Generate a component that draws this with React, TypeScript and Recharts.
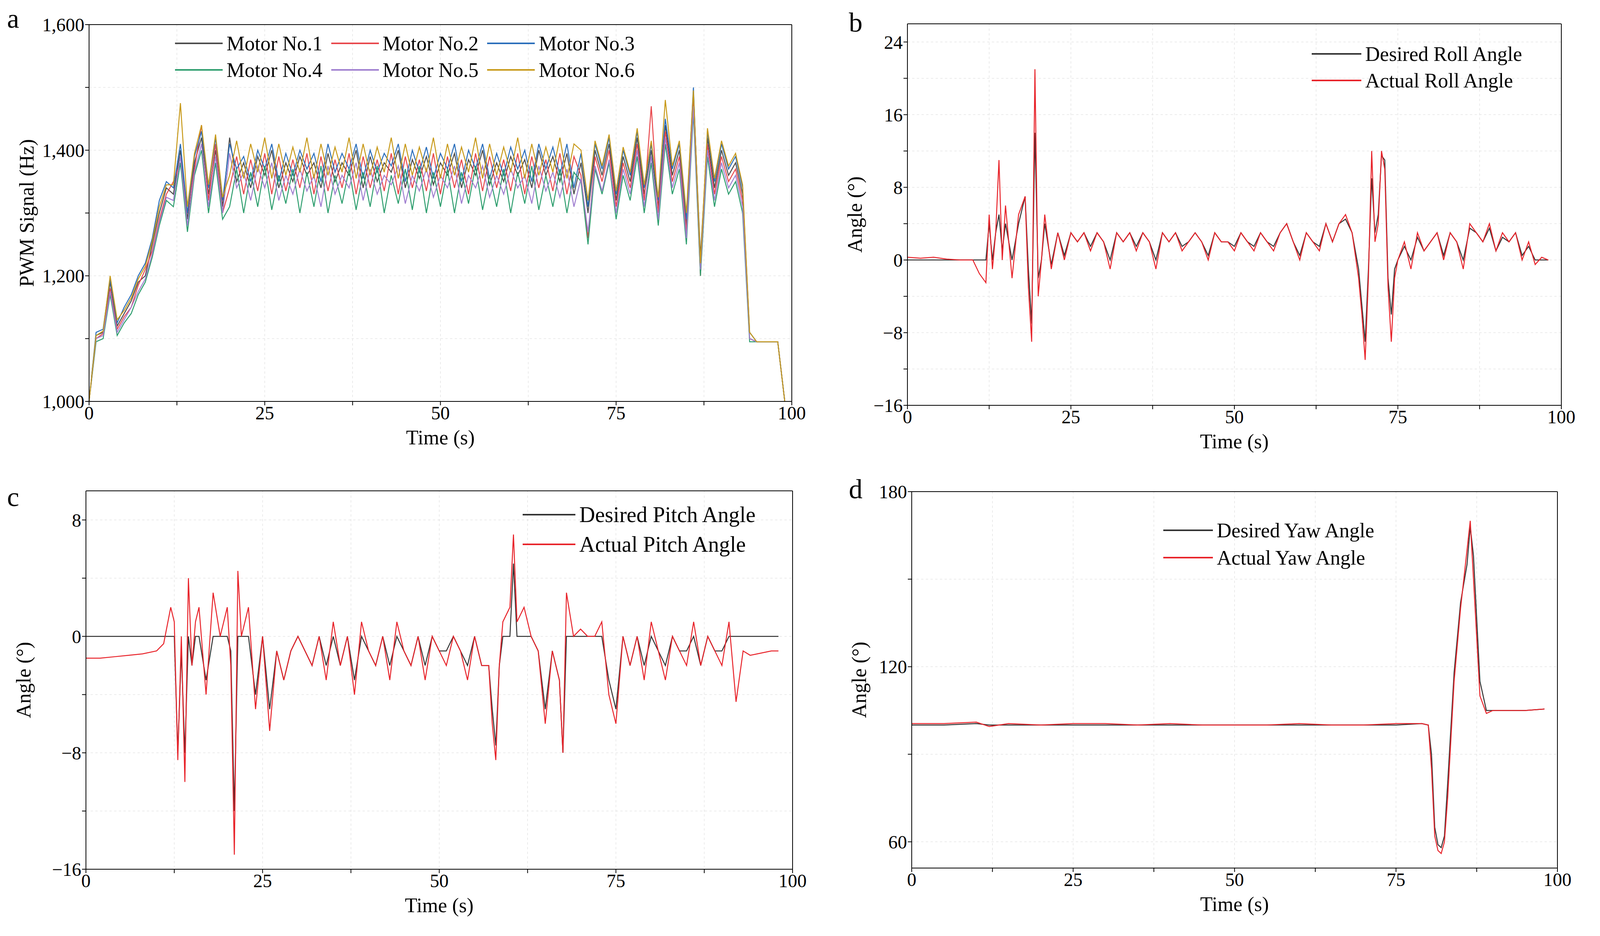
import React from 'react';
import { LineChart, Line, XAxis, YAxis, CartesianGrid } from 'recharts';

const FONT = '"Liberation Serif", "Times New Roman", serif';

// ---- panel a: motor PWM (one sample per second) ----
const MOTOR_T = Array.from({ length: 100 }, (_, i) => i);
const M1 = [
  1000,1105,1110,1190,1120,1140,1160,1190,1200,1250,
  1300,1340,1330,1400,1290,1380,1420,1330,1400,1310,
  1420,1350,1380,1340,1390,1360,1400,1340,1380,1350,
  1390,1360,1380,1340,1395,1350,1380,1360,1400,1340,
  1390,1350,1380,1365,1400,1340,1385,1355,1390,1345,
  1380,1360,1395,1340,1385,1360,1400,1345,1380,1350,
  1390,1360,1385,1340,1400,1360,1390,1350,1395,1330,
  1380,1300,1400,1360,1410,1320,1390,1350,1420,1330,
  1400,1310,1440,1360,1400,1280,1490,1230,1420,1340,
  1400,1360,1380,1330,1100,1095,1095,1095,1095,1000,
];
const M2 = [
  1000,1100,1108,1180,1115,1135,1150,1185,1210,1240,
  1290,1330,1350,1380,1300,1370,1440,1320,1410,1300,
  1340,1390,1330,1385,1335,1395,1330,1390,1335,1385,
  1340,1395,1330,1390,1335,1385,1340,1395,1330,1390,
  1340,1385,1335,1395,1330,1390,1340,1385,1335,1395,
  1330,1390,1340,1385,1330,1395,1335,1390,1340,1385,
  1335,1395,1330,1390,1340,1385,1335,1395,1330,1390,
  1360,1260,1390,1350,1400,1310,1380,1340,1410,1320,
  1470,1300,1430,1350,1390,1270,1480,1200,1410,1330,
  1390,1350,1370,1320,1100,1095,1095,1095,1095,1000,
];
const M3 = [
  1000,1110,1115,1195,1125,1150,1170,1200,1220,1260,
  1320,1350,1340,1410,1300,1390,1430,1340,1420,1320,
  1410,1370,1390,1350,1400,1370,1410,1350,1395,1360,
  1400,1370,1395,1350,1410,1365,1395,1370,1410,1355,
  1400,1365,1395,1375,1410,1350,1400,1365,1405,1355,
  1395,1370,1410,1350,1400,1370,1410,1355,1395,1360,
  1405,1370,1400,1350,1410,1370,1405,1360,1410,1340,
  1395,1310,1410,1370,1420,1330,1400,1360,1430,1340,
  1410,1320,1450,1370,1410,1290,1500,1210,1430,1350,
  1410,1370,1390,1340,1110,1095,1095,1095,1095,1000,
];
const M4 = [
  1000,1095,1100,1170,1105,1125,1140,1170,1190,1230,
  1280,1320,1310,1380,1270,1360,1400,1300,1380,1290,
  1310,1370,1300,1365,1310,1375,1305,1360,1315,1370,
  1300,1365,1310,1375,1300,1360,1315,1370,1305,1365,
  1310,1375,1300,1360,1315,1370,1305,1375,1300,1365,
  1310,1370,1300,1365,1315,1375,1305,1360,1310,1370,
  1300,1365,1315,1375,1305,1360,1310,1370,1300,1365,
  1350,1250,1370,1330,1380,1290,1360,1320,1390,1300,
  1380,1280,1410,1330,1370,1250,1460,1200,1390,1310,
  1370,1330,1350,1300,1095,1095,1095,1095,1095,1000,
];
const M5 = [
  1000,1100,1105,1175,1110,1130,1150,1175,1195,1235,
  1285,1325,1320,1390,1280,1365,1410,1310,1390,1300,
  1395,1340,1365,1320,1375,1340,1380,1320,1360,1330,
  1370,1335,1360,1310,1375,1330,1360,1340,1380,1320,
  1370,1330,1360,1345,1375,1315,1360,1335,1370,1325,
  1360,1340,1375,1315,1360,1340,1375,1325,1360,1330,
  1370,1340,1360,1315,1375,1335,1365,1325,1370,1310,
  1355,1270,1375,1335,1385,1300,1370,1330,1400,1310,
  1390,1290,1420,1340,1380,1260,1470,1210,1400,1320,
  1380,1340,1360,1310,1100,1095,1095,1095,1095,1000,
];
const M6 = [
  1000,1105,1112,1200,1130,1145,1165,1195,1215,1255,
  1310,1345,1345,1475,1310,1395,1440,1345,1425,1325,
  1360,1415,1355,1410,1365,1420,1355,1410,1360,1405,
  1365,1420,1355,1410,1360,1405,1365,1420,1355,1410,
  1360,1405,1365,1420,1355,1410,1360,1405,1365,1420,
  1355,1410,1360,1405,1365,1420,1355,1410,1360,1405,
  1365,1420,1355,1410,1360,1405,1365,1420,1355,1410,
  1400,1320,1415,1375,1425,1335,1405,1365,1435,1345,
  1415,1325,1480,1375,1415,1300,1495,1220,1435,1355,
  1415,1375,1395,1345,1110,1095,1095,1095,1095,1000,
];
const MOTOR_NAMES = ['Motor No.1', 'Motor No.2', 'Motor No.3', 'Motor No.4', 'Motor No.5', 'Motor No.6'];
const MOTOR_COLORS = ['#4d4d4d', '#e8474c', '#2a6ebb', '#2e9e6e', '#a07fd0', '#c89a1a'];

// ---- panel b: roll ----
const ROLL_T = [
  0,2,4,6,8,10,
  11,12,12.5,13,13.5,14,14.5,15,
  16,17,18,18.5,19,19.5,20,20.5,21,
  22,23,24,25,26,27,28,29,30,31,32,33,34,35,36,37,38,39,40,41,42,43,44,45,
  46,47,48,49,50,51,52,53,54,55,56,57,58,59,60,61,62,63,64,65,66,67,68,69,
  69.5,70,70.5,71,71.5,72,72.5,73,73.5,74,74.5,75,
  76,77,78,79,80,81,82,83,84,85,86,87,88,89,90,91,92,93,94,95,96,97,98,
];
const ROLL_ACT = [
  0.3,0.2,0.3,0.1,0,0,
  -1.5,-2.5,5,-1,3,11,0,6,
  -2,5,7,-3,-9,21,-4,0,5,
  -1,3,0,3,2,3,1,3,
  2,-1,3,2,3,1,3,2,
  -1,3,2,3,1,2,3,2,
  0,3,2,2,1,3,2,1,
  3,2,1,3,4,2,0,3,
  2,1,4,2,4,5,3,-2,
  -6,-11,-2,12,2,4,12,10,-3,-9,-2,0,
  2,-1,3,1,2,3,0,3,2,-1,4,3,2,4,1,3,2,3,0,2,-0.5,0.3,0,
];
const ROLL_DES = [
  0,0,0,0,0,0,
  0,0,4,0,3,5,1,4,
  0,4,7,-1,-7,14,-2,0,4,
  -0.5,3,0.5,3,2,3,1.5,3,
  2,0,3,2,3,1.5,3,2,
  0,3,2,3,1.5,2,3,2,
  0.5,3,2,2,1.5,3,2,1.5,
  3,2,1.5,3,4,2,0.5,3,
  2,1.5,4,2,4,4.5,3,-1,
  -5,-9,-1,9,3,5,11.5,11,-2,-6,-1,0,
  1.5,0,2.5,1,2,3,0.5,3,2,0,3.5,3,2,3.5,1,2.5,2,3,0.5,1.5,0,0,0,
];

// ---- panel c: pitch ----
const PITCH_T = [
  0,2,4,6,8,10,11,
  12,12.5,13,13.5,14,14.5,15,15.5,16,17,18,19,20,20.5,21,21.5,
  22,23,24,25,26,27,28,29,30,31,32,33,34,35,36,37,38,39,40,41,42,43,44,45,46,47,48,49,50,51,52,53,54,55,56,57,
  57.5,58,58.5,59,60,60.5,61,62,63,64,65,66,67,67.5,
  68,69,70,71,72,73,74,75,76,77,78,79,80,81,82,83,84,85,86,87,88,89,90,91,92,93,94,95,96,97,98,
];
const PITCH_ACT = [
  -1.5,-1.5,-1.4,-1.3,-1.2,-1,-0.5,
  2,1,-8.5,0,-10,4,-2,1,2,-4,3,0,2,-2,-15,4.5,
  0,2,-5,0,-6.5,-1,-3,-1,0,
  -1,-2,0,-3,1,-2,0,-4,1,
  -1,-2,0,-3,1,-1,-2,0,-3,
  0,-1,-2,0,-1,-3,0,-2,-2,
  -6,-8.5,-2,1,2,7,1,2,0,-1,-6,-1,-3,-8,
  3,0,0.5,0,0,1,-4,-6,0,-2,0,-3,1,-1,-3,0,-1,-2,1,-2,0,-1,-2,1,-4.5,-1,-1.3,-1.2,-1.1,-1,-1,
];
const PITCH_DES = [
  0,0,0,0,0,0,0,
  0,0,-8,-1,-8,0,-2,0,0,-3,0,0,0,-1,-12,0,
  0,0,-4,0,-5,-1,-3,-1,0,
  -1,-2,0,-2,0,-2,0,-3,0,
  -1,-2,0,-2,0,-1,-2,0,-2,
  0,-1,-1,0,-1,-2,0,-2,-2,
  -5,-7.5,-2,0,0,5,0,0,0,-1,-5,-1,-3,-8,
  0,0,0,0,0,0,-3,-5,0,-2,0,-2,0,-1,-2,0,-1,-1,0,-2,0,-1,-1,0,0,0,0,0,0,0,0,
];

// ---- panel d: yaw ----
const YAW_T = [0,5,10,12,15,20,25,30,35,40,45,50,55,60,65,70,75,79,80,80.5,81,81.5,82,82.5,83,84,85,86,86.5,87,88,89,90,95,98];
const YAW_ACT = [100.5,100.5,101,99.5,100.5,100,100.5,100.5,100,100.5,100,100,100,100.5,100,100,100.5,100.5,100,85,62,57,56,60,75,115,140,160,170,150,110,104,105,105,105.5];
const YAW_DES = [100,100,100.5,100,100,100,100,100,100,100,100,100,100,100,100,100,100,100.5,100,90,65,59,58,62,80,118,142,155,168,158,115,105,105,105,105.5];

const X_TICKS = [0, 12.5, 25, 37.5, 50, 62.5, 75, 87.5, 100];

const motorData = MOTOR_T.map((t, i) => ({ t, m0: M1[i], m1: M2[i], m2: M3[i], m3: M4[i], m4: M5[i], m5: M6[i] }));
const rollData = ROLL_T.map((t, i) => ({ t, des: ROLL_DES[i], act: ROLL_ACT[i] }));
const pitchData = PITCH_T.map((t, i) => ({ t, des: PITCH_DES[i], act: PITCH_ACT[i] }));
const yawData = YAW_T.map((t, i) => ({ t, des: YAW_DES[i], act: YAW_ACT[i] }));

const minus = (v: number) => (v < 0 ? '\u2212' + Math.abs(v) : String(v));
const tickStyle = { fontSize: 48, fill: '#000', fontFamily: FONT };
const labelStyle = { fontSize: 52, fill: '#000', fontFamily: FONT };

type Item = { name: string; color: string };
const LegendBox = ({ items, cols, fontSize, lineW, rowH }: { items: Item[]; cols: number; fontSize: number; lineW: number; rowH: number }) => (
  <div style={{ display: 'grid', gridTemplateColumns: `repeat(${cols}, auto)`, columnGap: 22, fontFamily: FONT, fontSize, whiteSpace: 'nowrap' }}>
    {items.map((it) => (
      <div key={it.name} style={{ display: 'flex', alignItems: 'center', height: rowH }}>
        <span style={{ display: 'inline-block', width: lineW, height: 4, background: it.color, marginRight: 10 }} />
        <span>{it.name}</span>
      </div>
    ))}
  </div>
);

interface PanelProps {
  left: number; top: number; width: number; height: number;
  margin: { top: number; right: number; bottom: number; left: number };
  yWidth: number; data: any[]; yDomain: [number, number]; yTicks: number[];
  yFmt: (v: number) => string; yLabel: string; letter: string; letterPos: { left: number; top: number };
  legend: React.ReactNode; legendPos: { left: number; top: number };
  children: React.ReactNode;
}

const Panel = (p: PanelProps) => (
  <div style={{ position: 'absolute', left: p.left, top: p.top, width: p.width, height: p.height }}>
    <LineChart width={p.width} height={p.height} data={p.data} margin={p.margin}>
      <CartesianGrid stroke="#d9d9d9" strokeDasharray="6 6" />
      <XAxis dataKey="t" type="number" domain={[0, 100]} ticks={X_TICKS} interval={0}
        tickFormatter={(v: number) => (v % 25 === 0 ? String(v) : '')}
        tick={tickStyle} stroke="#000" strokeWidth={2} tickSize={10} height={120}
        label={{ value: 'Time (s)', position: 'insideBottom', offset: 10, style: labelStyle }} />
      <XAxis xAxisId="top" orientation="top" type="number" domain={[0, 100]} tick={false} tickLine={false} stroke="#000" strokeWidth={2} height={1} />
      <YAxis type="number" domain={p.yDomain} ticks={p.yTicks} interval={0} allowDataOverflow
        tickFormatter={p.yFmt} tick={tickStyle} stroke="#000" strokeWidth={2} tickSize={10} width={p.yWidth}
        label={{ value: p.yLabel, angle: -90, position: 'insideLeft', offset: 10, style: { ...labelStyle, textAnchor: 'middle' } }} />
      <YAxis yAxisId="right" orientation="right" tick={false} tickLine={false} stroke="#000" strokeWidth={2} width={1} />
      {p.children}
    </LineChart>
    <div style={{ position: 'absolute', left: p.legendPos.left, top: p.legendPos.top }}>{p.legend}</div>
    <div style={{ position: 'absolute', left: p.letterPos.left, top: p.letterPos.top, fontFamily: FONT, fontSize: 70 }}>{p.letter}</div>
  </div>
);

const pair = (des: string, act: string): Item[] => [
  { name: des, color: '#333333' },
  { name: act, color: '#e8232a' },
];

export default function App() {
  return (
    <div style={{ position: 'relative', width: 4050, height: 2380, background: '#fff' }}>
      <Panel left={0} top={0} width={2080} height={1200}
        margin={{ top: 54, right: 60, bottom: 60, left: 50 }} yWidth={170}
        data={motorData} yDomain={[1000, 1600]} yTicks={[1000, 1100, 1200, 1300, 1400, 1500, 1600]}
        yFmt={(v) => (v % 200 === 0 ? v.toLocaleString('en-US') : '')} yLabel="PWM Signal (Hz)" letter="a"
        letterPos={{ left: 10, top: 0 }}
        legendPos={{ left: 440, top: 69 }}
        legend={<LegendBox items={MOTOR_NAMES.map((n, i) => ({ name: n, color: MOTOR_COLORS[i] }))} cols={3} fontSize={52} lineW={122} rowH={68} />}>
        {MOTOR_NAMES.map((n, i) => (
          <Line key={n} dataKey={`m${i}`} name={n} stroke={MOTOR_COLORS[i]} strokeWidth={2.5} dot={false} isAnimationActive={false} />
        ))}
      </Panel>

      <Panel left={2110} top={0} width={1930} height={1200}
        margin={{ top: 52, right: 50, bottom: 50, left: 60 }} yWidth={145}
        data={rollData} yDomain={[-16, 26]} yTicks={[-16, -12, -8, -4, 0, 4, 8, 12, 16, 20, 24]}
        yFmt={(v) => (v % 8 === 0 ? minus(v) : '')} yLabel="Angle (°)" letter="b"
        letterPos={{ left: 55, top: 10 }}
        legendPos={{ left: 1240, top: 96 }}
        legend={<LegendBox items={pair('Desired Roll Angle', 'Actual Roll Angle')} cols={1} fontSize={52} lineW={127} rowH={68} />}>
        <Line dataKey="des" stroke="#333333" strokeWidth={2.5} dot={false} isAnimationActive={false} />
        <Line dataKey="act" stroke="#e8232a" strokeWidth={2.5} dot={false} isAnimationActive={false} />
      </Panel>

      <Panel left={0} top={1200} width={2080} height={1180}
        margin={{ top: 48, right: 58, bottom: 42, left: 42 }} yWidth={170}
        data={pitchData} yDomain={[-16, 10]} yTicks={[-16, -12, -8, -4, 0, 4, 8]}
        yFmt={(v) => (v % 8 === 0 ? minus(v) : '')} yLabel="Angle (°)" letter="c"
        letterPos={{ left: 10, top: 25 }}
        legendPos={{ left: 1330, top: 72 }}
        legend={<LegendBox items={pair('Desired Pitch Angle', 'Actual Pitch Angle')} cols={1} fontSize={56} lineW={135} rowH={76} />}>
        <Line dataKey="des" stroke="#333333" strokeWidth={2.5} dot={false} isAnimationActive={false} />
        <Line dataKey="act" stroke="#e8232a" strokeWidth={2.5} dot={false} isAnimationActive={false} />
      </Panel>

      <Panel left={2110} top={1200} width={1930} height={1180}
        margin={{ top: 50, right: 60, bottom: 45, left: 71 }} yWidth={145}
        data={yawData} yDomain={[51, 180]} yTicks={[60, 90, 120, 150, 180]}
        yFmt={(v) => (v % 60 === 0 ? String(v) : '')} yLabel="Angle (°)" letter="d"
        letterPos={{ left: 55, top: 5 }}
        legendPos={{ left: 860, top: 115 }}
        legend={<LegendBox items={pair('Desired Yaw Angle', 'Actual Yaw Angle')} cols={1} fontSize={52} lineW={127} rowH={70} />}>
        <Line dataKey="des" stroke="#333333" strokeWidth={2.5} dot={false} isAnimationActive={false} />
        <Line dataKey="act" stroke="#e8232a" strokeWidth={2.5} dot={false} isAnimationActive={false} />
      </Panel>
    </div>
  );
}
